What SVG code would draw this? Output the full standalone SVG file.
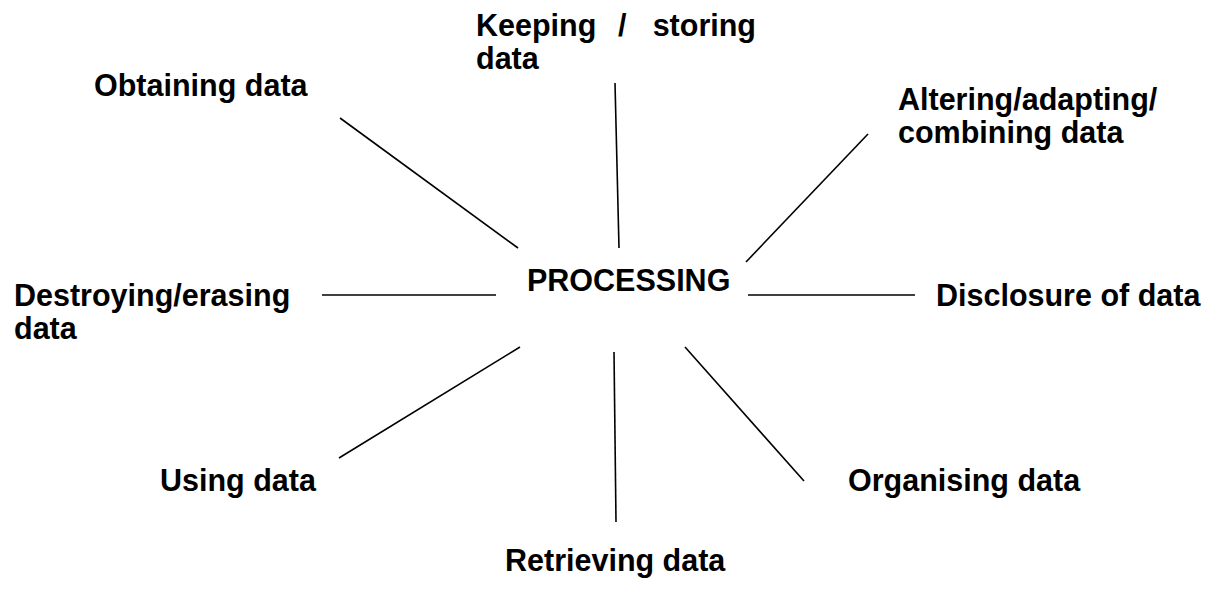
<svg xmlns="http://www.w3.org/2000/svg" width="1208" height="592" viewBox="0 0 1208 592">
  <style>
    .lbl { font-family: "Liberation Sans", Arial, sans-serif; font-weight: bold; font-size: 30.5px; fill: #000; }
    .conn line { stroke: #000; stroke-width: 1.6; }
  </style>
  <rect width="1208" height="592" fill="#fff"/>

  <!-- spokes from the central term to each activity -->
  <g id="connectors" class="conn">
    <line x1="340" y1="118" x2="518" y2="248"/>
    <line x1="615" y1="83" x2="619" y2="248"/>
    <line x1="868" y1="134" x2="746" y2="262"/>
    <line x1="322" y1="295" x2="496" y2="295"/>
    <line x1="748" y1="295" x2="915" y2="295"/>
    <line x1="339" y1="458" x2="520" y2="347"/>
    <line x1="614" y1="352" x2="616" y2="522"/>
    <line x1="685" y1="347" x2="804" y2="481"/>
  </g>

  <g id="processing"><text class="lbl" x="527" y="291">PROCESSING</text></g>
  <g id="obtaining"><text class="lbl" x="94" y="96">Obtaining data</text></g>
  <g id="keeping">
    <!-- justified first line: words spread to the full column width -->
    <text class="lbl" x="476" y="36">Keeping</text>
    <text class="lbl" x="618" y="36">/</text>
    <text class="lbl" x="756" y="36" text-anchor="end">storing</text>
    <text class="lbl" x="476" y="69">data</text>
  </g>
  <g id="altering">
    <text class="lbl" x="898" y="110">Altering/adapting/</text>
    <text class="lbl" x="898" y="143">combining data</text>
  </g>
  <g id="destroying">
    <text class="lbl" x="14" y="306">Destroying/erasing</text>
    <text class="lbl" x="14" y="339">data</text>
  </g>
  <g id="disclosure"><text class="lbl" x="936" y="306">Disclosure of data</text></g>
  <g id="using"><text class="lbl" x="160" y="491">Using data</text></g>
  <g id="organising"><text class="lbl" x="848" y="491">Organising data</text></g>
  <g id="retrieving"><text class="lbl" x="505" y="571">Retrieving data</text></g>
</svg>
